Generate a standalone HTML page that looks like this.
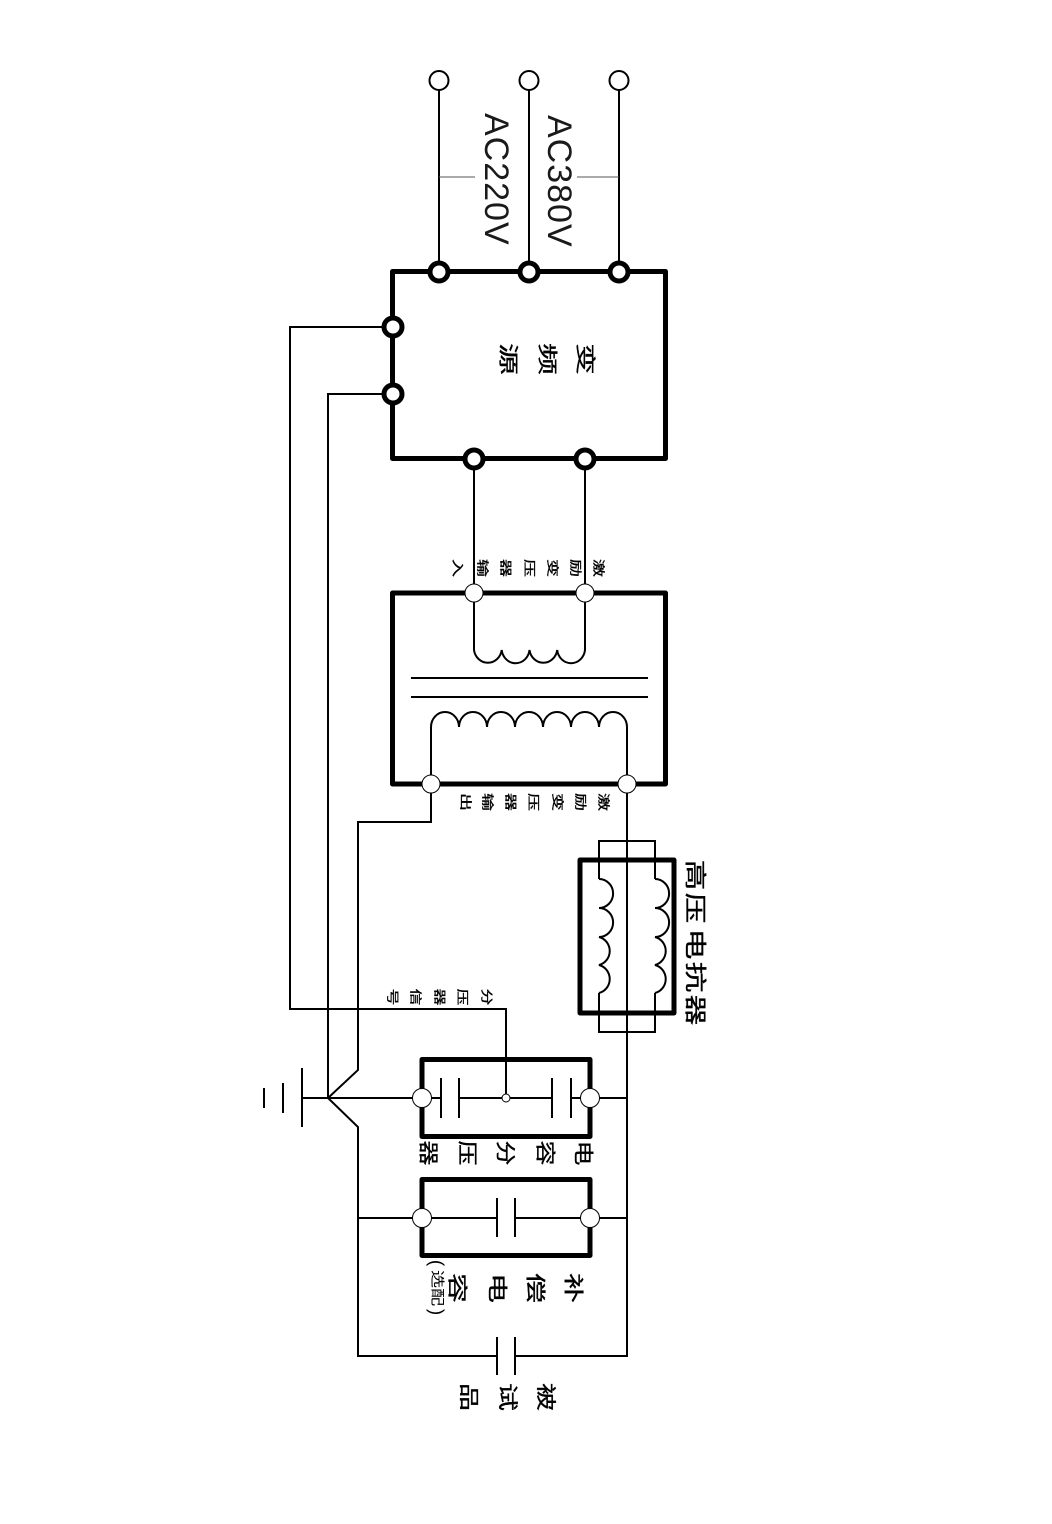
<!DOCTYPE html>
<html><head><meta charset="utf-8"><style>
html,body{margin:0;padding:0;background:#fff}
svg{display:block;filter:blur(.3px)}
text{font-family:"Liberation Sans","Noto Sans CJK SC",sans-serif;fill:#000}
.t{text-anchor:middle;dominant-baseline:central}
.b text{stroke:#000;stroke-width:.3px}
</style></head><body>
<svg width="1052" height="1524" viewBox="0 0 1052 1524" xmlns="http://www.w3.org/2000/svg">
<rect width="1052" height="1524" fill="#fff"/>
<g fill="none" stroke="#000" stroke-width="2">
<path d="M439 80V271M529 80V271M619 80V271"/>
<path d="M474 459V593M585 459V593"/>
<path d="M393 327H290V1009H506V1098"/>
<path d="M393 394H328V1098"/>
<path d="M431 784V822H358V1070L328 1098L358 1127V1356H496M515 1356H627V784"/>
<path d="M474 593V650A14 15 0 0 0 501.700 650A14 15 0 0 0 529.500 650A14 15 0 0 0 557.200 650A14 15 0 0 0 585 650V593"/>
<path d="M411 678H648M411 697H648" />
<path d="M431 784V727A14 15 0 0 1 459 727A14 15 0 0 1 487 727A14 15 0 0 1 515 727A14 15 0 0 1 543 727A14 15 0 0 1 571 727A14 15 0 0 1 599 727A14 15 0 0 1 627 727V784"/>
<path d="M599 879V841H655V879M599 993V1032H655V993"/>
<path d="M599 879A14 14.400 0 0 1 599 908A14 14.400 0 0 1 599 937A14 14.400 0 0 1 599 965A14 14.400 0 0 1 599 993"/>
<path d="M655 879A14 14.400 0 0 1 655 908A14 14.400 0 0 1 655 937A14 14.400 0 0 1 655 965A14 14.400 0 0 1 655 993"/>
<path d="M302 1098H441M459 1098H552M571 1098H627"/>
<path d="M358 1218H497M515 1218H627"/>
<path d="M302 1068V1127M283 1083V1113M264 1088V1108"/>
<path d="M441 1078V1118M459 1078V1118M552 1078V1118M571 1078V1118"/>
<path d="M497 1198V1237M515 1198V1237M497 1337V1375M515 1337V1375"/>
</g>
<path d="M439 177H475M577 177H619" stroke="#555" stroke-width="1" fill="none"/>
<g fill="none" stroke="#000" stroke-width="5" stroke-linejoin="round">
<rect x="392.500" y="271.500" width="273" height="187"/>
<rect x="392.500" y="593" width="273" height="191"/>
<rect x="580" y="860" width="94" height="153"/>
<rect x="422" y="1059.500" width="168" height="77"/>
<rect x="422" y="1179.500" width="168" height="76"/>
</g>
<g fill="#fff" stroke="#000" stroke-width="2">
<circle cx="439" cy="80.500" r="9.500"/><circle cx="529" cy="80.500" r="9.500"/><circle cx="619" cy="80.500" r="9.500"/>
</g>
<g fill="#fff" stroke="#000" stroke-width="5">
<circle cx="439" cy="272" r="9"/><circle cx="529" cy="272" r="9"/><circle cx="619" cy="272" r="9"/>
<circle cx="393" cy="327" r="9"/><circle cx="393" cy="394" r="9"/>
<circle cx="474" cy="459" r="9"/><circle cx="585" cy="459" r="9"/>
</g>
<g fill="#fff" stroke="#000" stroke-width="1">
<circle cx="474" cy="593" r="9"/><circle cx="585" cy="593" r="9"/>
<circle cx="431" cy="784" r="9"/><circle cx="627" cy="784" r="9"/>
<circle cx="422" cy="1098" r="9.500"/><circle cx="590" cy="1098" r="9.500"/>
<circle cx="422" cy="1218" r="9.500"/><circle cx="590" cy="1218" r="9.500"/>
<circle cx="506" cy="1098" r="4"/>
</g>
<text transform="translate(485,113) rotate(90)" font-size="34" letter-spacing="1" style="fill:#1a1a1a">AC220V</text>
<text transform="translate(548,115) rotate(90)" font-size="34" letter-spacing="1" style="fill:#1a1a1a">AC380V</text>

<g class="b" font-size="20">
<text class="t" transform="translate(585,359) rotate(90) scale(1.600,1)">变</text>
<text class="t" transform="translate(547,359) rotate(90) scale(1.600,1)">频</text>
<text class="t" transform="translate(508,359) rotate(90) scale(1.600,1)">源</text>
</g>
<g class="b" font-size="12">
<text class="t" transform="translate(598,568) rotate(90) scale(1.500,1)">激</text>
<text class="t" transform="translate(575,568) rotate(90) scale(1.500,1)">励</text>
<text class="t" transform="translate(552,568) rotate(90) scale(1.500,1)">变</text>
<text class="t" transform="translate(529,568) rotate(90) scale(1.500,1)">压</text>
<text class="t" transform="translate(505,568) rotate(90) scale(1.500,1)">器</text>
<text class="t" transform="translate(482,568) rotate(90) scale(1.500,1)">输</text>
<text class="t" transform="translate(457,568) rotate(90) scale(1.500,1)">入</text>
<text class="t" transform="translate(603,802) rotate(90) scale(1.500,1)">激</text>
<text class="t" transform="translate(580,802) rotate(90) scale(1.500,1)">励</text>
<text class="t" transform="translate(557,802) rotate(90) scale(1.500,1)">变</text>
<text class="t" transform="translate(533,802) rotate(90) scale(1.500,1)">压</text>
<text class="t" transform="translate(510,802) rotate(90) scale(1.500,1)">器</text>
<text class="t" transform="translate(487,802) rotate(90) scale(1.500,1)">输</text>
<text class="t" transform="translate(465,802) rotate(90) scale(1.500,1)">出</text>
<text class="t" transform="translate(486,997) rotate(90) scale(1.400,1)">分</text>
<text class="t" transform="translate(462,997) rotate(90) scale(1.400,1)">压</text>
<text class="t" transform="translate(439,997) rotate(90) scale(1.400,1)">器</text>
<text class="t" transform="translate(415,997) rotate(90) scale(1.400,1)">信</text>
<text class="t" transform="translate(392,997) rotate(90) scale(1.400,1)">号</text>
</g>
<g class="b" font-size="22">
<text class="t" transform="translate(695,875) rotate(90) scale(1.400,1)">高</text>
<text class="t" transform="translate(695,908) rotate(90) scale(1.400,1)">压</text>
<text class="t" transform="translate(695,944) rotate(90) scale(1.400,1)">电</text>
<text class="t" transform="translate(695,977) rotate(90) scale(1.400,1)">抗</text>
<text class="t" transform="translate(695,1010) rotate(90) scale(1.400,1)">器</text>
</g>
<g class="b" font-size="20">
<text class="t" transform="translate(583,1153) rotate(90) scale(1.250,1)">电</text>
<text class="t" transform="translate(545,1153) rotate(90) scale(1.250,1)">容</text>
<text class="t" transform="translate(505,1153) rotate(90) scale(1.250,1)">分</text>
<text class="t" transform="translate(467,1153) rotate(90) scale(1.250,1)">压</text>
<text class="t" transform="translate(428,1153) rotate(90) scale(1.250,1)">器</text>
<text class="t" transform="translate(573,1288) rotate(90) scale(1.500,1)">补</text>
<text class="t" transform="translate(535,1288) rotate(90) scale(1.500,1)">偿</text>
<text class="t" transform="translate(497,1288) rotate(90) scale(1.500,1)">电</text>
<text class="t" transform="translate(457,1288) rotate(90) scale(1.500,1)">容</text>
<text class="t" transform="translate(545,1397) rotate(90) scale(1.400,1)">被</text>
<text class="t" transform="translate(507,1397) rotate(90) scale(1.400,1)">试</text>
<text class="t" transform="translate(468,1397) rotate(90) scale(1.400,1)">品</text>
</g>
<text class="t" font-size="14" transform="translate(437,1288) rotate(90) scale(1.300,1)">选配</text>
<text class="t" font-size="19" transform="translate(436,1263) rotate(90)">(</text>
<text class="t" font-size="19" transform="translate(436,1312) rotate(90)">)</text>
</svg>
</body></html>
